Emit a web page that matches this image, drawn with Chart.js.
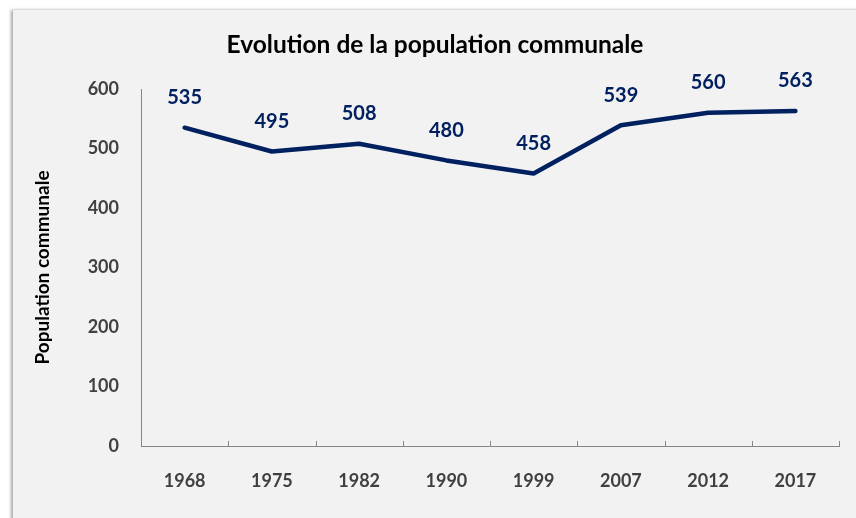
<!DOCTYPE html>
<html>
<head>
<meta charset="utf-8">
<script src="https://cdn.jsdelivr.net/npm/chart.js@4/dist/chart.umd.min.js"></script>
<style>
  html, body { margin: 0; padding: 0; background: #ffffff; }
  #frame { position: absolute; left: 13px; top: 10px; width: 870px; height: 530px; background: #f2f2f2; box-shadow: -2px 0 3px rgba(0,0,0,0.35); }
  #wrap { position: absolute; left: 0; top: 0; width: 856px; height: 518px; overflow: hidden; }
  body { width: 856px; height: 518px; overflow: hidden; }
</style>
</head>
<body>
<div id="wrap">
  <div id="frame"></div>
  <canvas id="c" width="856" height="518" style="position:absolute;left:0;top:0;"></canvas>
</div>
<script>
const categories = ["1968", "1975", "1982", "1990", "1999", "2007", "2012", "2017"];
const populationValues = [535, 495, 508, 480, 458, 539, 560, 563];
const yTickValues = [0, 100, 200, 300, 400, 500, 600];
const chartTitle = "Evolution de la population communale";
const yAxisTitle = "Population communale";

const NAVY = "#002060";
const AXIS = "#868686";
const FONT = "Lato, 'Open Sans', 'Liberation Sans', sans-serif";

const valueLabels = {
  id: "valueLabels",
  afterDatasetsDraw(chart) {
    const ctx = chart.ctx;
    const meta = chart.getDatasetMeta(0);
    ctx.save();
    ctx.font = "bold 20px " + FONT;
    ctx.fillStyle = NAVY;
    ctx.textAlign = "center";
    ctx.textBaseline = "middle";
    meta.data.forEach((pt, i) => {
      ctx.fillText(String(chart.data.datasets[0].data[i]), pt.x, pt.y - 30);
    });
    ctx.restore();
  }
};

const innerTicks = {
  id: "innerTicks",
  afterDraw(chart) {
    const xs = chart.scales.x;
    const ctx = chart.ctx;
    const n = xs.ticks.length;
    const step = xs.width / n;
    ctx.save();
    ctx.strokeStyle = AXIS;
    ctx.lineWidth = 1;
    for (let i = 0; i <= n; i++) {
      const x = Math.round(xs.left + i * step) + 0.5;
      ctx.beginPath();
      ctx.moveTo(x, xs.top);
      ctx.lineTo(x, xs.top - 5);
      ctx.stroke();
    }
    ctx.restore();
  }
};

new Chart(document.getElementById("c"), {
  type: "line",
  data: {
    labels: categories,
    datasets: [{
      data: populationValues,
      borderColor: NAVY,
      borderWidth: 4.5,
      pointRadius: 0,
      pointHoverRadius: 0,
      tension: 0,
      fill: false,
      borderCapStyle: "round",
      borderJoinStyle: "round"
    }]
  },
  options: {
    responsive: false,
    animation: false,
    events: [],
    layout: { padding: { left: 31, right: 17, top: 0, bottom: 0 } },
    plugins: {
      legend: { display: false },
      tooltip: { enabled: false },
      title: {
        display: true,
        text: chartTitle,
        color: "#000000",
        font: { family: FONT, size: 24.5, weight: "bold" },
        padding: { top: 30, bottom: 29.6 }
      }
    },
    scales: {
      x: {
        offset: true,
        afterFit(s) { s.height = 72; },
        grid: { display: false, drawTicks: false },
        border: { display: true, color: AXIS, width: 1 },
        ticks: {
          color: "#404040",
          font: { family: FONT, size: 18, weight: "bold" },
          padding: 24,
          maxRotation: 0
        }
      },
      y: {
        min: 0,
        max: 600,
        afterFit(s) { s.width = 110; },
        afterBuildTicks(s) { s.ticks = yTickValues.map(v => ({ value: v })); },
        grid: { display: false, drawTicks: false },
        border: { display: true, color: AXIS, width: 1 },
        ticks: {
          color: "#404040",
          font: { family: FONT, size: 18, weight: "bold" },
          padding: 22
        },
        title: {
          display: true,
          text: yAxisTitle,
          color: "#000000",
          font: { family: FONT, size: 19, weight: "bold" },
          padding: { top: 0, bottom: 0 }
        }
      }
    }
  },
  plugins: [valueLabels, innerTicks]
});
</script>
</body>
</html>
